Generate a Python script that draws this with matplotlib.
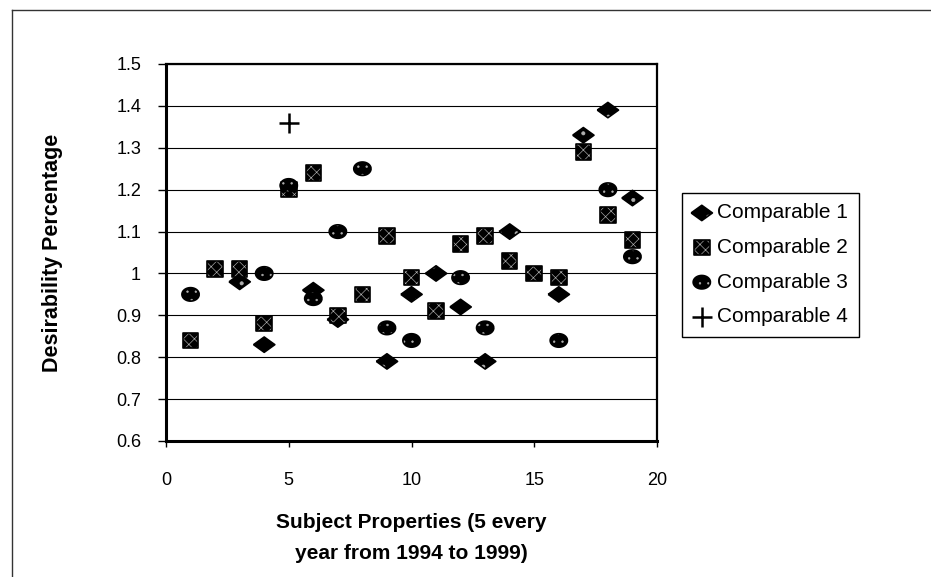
import numpy as np
import matplotlib
matplotlib.use("Agg")
import matplotlib.pyplot as plt
from matplotlib.lines import Line2D
from matplotlib.ticker import FormatStrFormatter, MultipleLocator

# valores
comp1_x = [3, 4, 6, 7, 9, 10, 11, 12, 13, 14, 16, 17, 18, 19]
comp1_y = [0.98, 0.83, 0.96, 0.89, 0.79, 0.95, 1.00, 0.92, 0.79, 1.10, 0.95, 1.33, 1.39, 1.18]

comp2_x = [1, 2, 3, 4, 5, 6, 7, 8, 9, 10, 11, 12, 13, 14, 15, 16, 17, 18, 19]
comp2_y = [0.84, 1.01, 1.01, 0.88, 1.20, 1.24, 0.90, 0.95, 1.09, 0.99, 0.91, 1.07, 1.09, 1.03,
           1.00, 0.99, 1.29, 1.14, 1.08]

comp3_x = [1, 4, 5, 6, 7, 8, 9, 10, 12, 13, 16, 18, 19]
comp3_y = [0.95, 1.00, 1.21, 0.94, 1.10, 1.25, 0.87, 0.84, 0.99, 0.87, 0.84, 1.20, 1.04]

comp4_x = [5]
comp4_y = [1.36]

labels = ['Comparable 1', 'Comparable 2', 'Comparable 3', 'Comparable 4']

plt.rcParams['font.family'] = ['Liberation Sans', 'DejaVu Sans']
plt.rcParams['hatch.linewidth'] = 0.45

fig = plt.figure(figsize=(9.31, 5.77), dpi=100)
ax = fig.add_axes([166 / 931, 1 - 441 / 577, 491 / 931, 377 / 577])

# formas de los marcadores (rombo achatado y elipse)
diamond = [(-1, 0), (0, 0.72), (1, 0), (0, -0.72), (-1, 0)]
t = np.linspace(0, 2 * np.pi, 41)
ellipse = list(zip(np.cos(t), 0.78 * np.sin(t)))


def speckled(x, y, marker, s, hatch):
    # relleno negro con trama clara y luego el contorno negro
    a = ax.scatter(x, y, marker=marker, s=s, facecolor='black', edgecolor='#b0b0b0',
                   linewidths=0, hatch=hatch, zorder=3)
    b = ax.scatter(x, y, marker=marker, s=s, facecolor='none', edgecolor='black',
                   linewidths=1.2, zorder=3)
    return (a, b)


h1 = speckled(comp1_x, comp1_y, diamond, 235, '.')
h2 = speckled(comp2_x, comp2_y, 's', 125, 'xxx')
h3 = speckled(comp3_x, comp3_y, ellipse, 155, '..')
h4 = ax.scatter(comp4_x, comp4_y, marker='+', s=210, color='black', linewidths=1.8, zorder=3)

ax.set_xlim(0, 20)
ax.set_ylim(0.6, 1.5)
ax.xaxis.set_major_locator(MultipleLocator(5))
ax.yaxis.set_major_locator(MultipleLocator(0.1))
ax.yaxis.set_major_formatter(FormatStrFormatter('%g'))
ax.grid(axis='y', color='black', linewidth=0.8)
ax.set_axisbelow(True)

for side in ['left', 'bottom']:
    ax.spines[side].set_linewidth(2.2)
for side in ['top', 'right']:
    ax.spines[side].set_linewidth(1.6)

ax.tick_params(axis='y', direction='out', length=6, width=1, labelsize=13, pad=12)
ax.tick_params(axis='x', direction='out', length=4, width=1, labelsize=13, pad=18)

ax.set_ylabel('Desirability Percentage', fontsize=15.5, fontweight='bold')
ax.yaxis.set_label_coords(-0.21, 0.5)
ax.set_xlabel('Subject Properties (5 every\nyear from 1994 to 1999)', fontsize=15,
              fontweight='bold', linespacing=1.8)
ax.xaxis.set_label_coords(0.5, -0.19)

leg = ax.legend([h1, h2, h3, h4], labels, loc='upper left',
                bbox_to_anchor=(682 / 931, 1 - 193 / 577),
                bbox_transform=fig.transFigure, fontsize=15, frameon=True, fancybox=False,
                edgecolor='black', framealpha=1, borderaxespad=0, borderpad=0.5,
                handlelength=0.9, handletextpad=0.3, labelspacing=0.75)
leg.get_frame().set_linewidth(1.0)

# bordes del área del gráfico (recortados en el original)
fig.add_artist(Line2D([12 / 931, 1], [1 - 10 / 577, 1 - 10 / 577], color='#333333',
                      linewidth=1, transform=fig.transFigure))
fig.add_artist(Line2D([12 / 931, 12 / 931], [0, 1 - 10 / 577], color='#333333',
                      linewidth=1, transform=fig.transFigure))

plt.savefig('out.png', dpi=100)
plt.close()
